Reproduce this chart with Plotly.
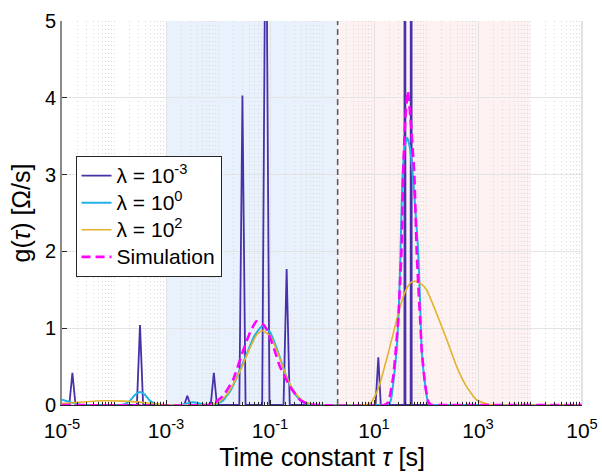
import plotly.graph_objects as go

# ---------------- data (log10 of tau, g values) ----------------
lam3_logtau = [-5.0, -4.86, -4.80, -4.74, -3.56, -3.50, -3.44, -2.65, -2.59, -2.53,
               -2.14, -2.08, -2.02, -1.59, -1.53, -1.47, -1.15, -1.08, -1.01,
               -0.74, -0.68, -0.62, 1.03, 1.083, 1.13, 1.585, 1.595, 1.605,
               1.705, 1.715, 1.725, 5.0]
lam3_g = [0, 0, 0.42, 0, 0, 1.04, 0, 0, 0.12, 0,
          0, 0.42, 0, 0, 4.03, 0, 0, 7.3, 0,
          0, 1.77, 0, 0, 0.62, 0, 0, 30, 0,
          0, 30, 0, 0]

lam0_logtau = [-5.0, -4.85, -4.7, -4.55, -3.85, -3.7, -3.6, -3.5, -3.4, -3.3, -3.15,
               -2.7, -2.6, -2.48, -2.35, -2.2, -2.05, -1.9, -1.75, -1.6, -1.45, -1.3,
               -1.15, -1.0, -0.85, -0.7, -0.55, -0.4, -0.25, -0.1,
               1.2, 1.28, 1.33, 1.37, 1.435, 1.48, 1.51, 1.55, 1.6, 1.64, 1.69, 1.745,
               1.80, 1.85, 1.885, 1.917, 1.98, 2.045, 2.1, 2.2, 5.0]
lam0_g = [0.07, 0.04, 0.01, 0.0, 0.0, 0.05, 0.13, 0.17, 0.13, 0.05, 0.0,
          0.0, 0.02, 0.035, 0.02, 0.0, 0.01, 0.06, 0.2, 0.42, 0.66, 0.9,
          1.03, 0.95, 0.7, 0.4, 0.17, 0.05, 0.01, 0.0,
          0.0, 0.0, 0.08, 0.28, 0.72, 1.3, 2.0, 3.0, 3.4, 3.48, 3.35, 3.0,
          2.5, 2.0, 1.37, 0.72, 0.28, 0.02, 0.0, 0.0, 0.0]

lam2_logtau = [-5.0, -4.6, -4.2, -3.8, -3.4, -3.1, -2.9, -2.2, -2.0, -1.85, -1.7,
               -1.55, -1.4, -1.25, -1.15, -1.0, -0.85, -0.7, -0.55, -0.4, -0.25,
               -0.1, 0.8, 0.923, 1.02, 1.115, 1.24, 1.37, 1.5, 1.63, 1.72, 1.808, 1.9,
               2.01, 2.205, 2.4, 2.59, 2.78, 2.975, 3.17, 3.35, 5.0]
lam2_g = [0.02, 0.04, 0.055, 0.05, 0.03, 0.01, 0.0, 0.0, 0.03, 0.12, 0.28,
          0.48, 0.72, 0.92, 0.97, 0.9, 0.68, 0.4, 0.19, 0.07, 0.02,
          0.0, 0.0, 0.02, 0.12, 0.28, 0.59, 0.93, 1.28, 1.52, 1.6, 1.61, 1.58,
          1.5, 1.19, 0.85, 0.5, 0.24, 0.065, 0.013, 0.0, 0.0]

sim_logtau = [-5.0, -2.2, -2.09, -1.9, -1.71, -1.51, -1.38, -1.26, -1.15, -1.06,
              -0.93, -0.81, -0.7, -0.615, -0.42, -0.25, -0.1, 1.2, 1.276, 1.37,
              1.42, 1.47, 1.5, 1.53, 1.56, 1.6, 1.65, 1.7, 1.775, 1.82, 1.85, 1.885,
              1.917, 1.98, 2.045, 2.1, 2.2, 5.0]
sim_g = [0.0, 0.0, 0.02, 0.12, 0.33, 0.72, 0.95, 1.09, 1.06, 0.98,
         0.75, 0.5, 0.35, 0.24, 0.065, 0.01, 0.0, 0.0, 0.04, 0.37,
         0.72, 1.15, 1.58, 2.02, 3.0, 3.7, 4.09, 3.75, 3.0, 2.02, 1.58, 1.15,
         0.72, 0.28, 0.04, 0.0, 0.0, 0.0]

series_names = ["λ = 10<sup>-3</sup>", "λ = 10<sup>0</sup>", "λ = 10<sup>2</sup>", "Simulation"]
tick_vals = [1e-5, 1e-3, 1e-1, 1e1, 1e3, 1e5]
tick_text = ["10<sup>-5</sup>", "10<sup>-3</sup>", "10<sup>-1</sup>", "10<sup>1</sup>",
             "10<sup>3</sup>", "10<sup>5</sup>"]
y_ticks = [0, 1, 2, 3, 4, 5]
region_low = [1e-3, 2.0]
region_high = [2.0, 1e4]
divider = 2.0

# ---------------- figure ----------------
def tau(lst):
    return [10 ** v for v in lst]

def big(name):
    return '<span style="font-size:21px">' + name + '</span>'

FONT = "Liberation Sans, Arial, sans-serif"
SMOOTH = 0.45
fig = go.Figure()
fig.add_trace(go.Scatter(x=tau(lam3_logtau), y=lam3_g, mode="lines", name=big(series_names[0]),
                         line=dict(color="#4831A8", width=1.8)))
fig.add_trace(go.Scatter(x=tau(lam0_logtau), y=lam0_g, mode="lines", name=big(series_names[1]),
                         line=dict(color="#22B0E6", width=2, shape="spline", smoothing=SMOOTH)))
fig.add_trace(go.Scatter(x=tau(lam2_logtau), y=lam2_g, mode="lines", name=big(series_names[2]),
                         line=dict(color="#E3B22E", width=1.6, shape="spline", smoothing=SMOOTH)))
fig.add_trace(go.Scatter(x=tau(sim_logtau), y=sim_g, mode="lines", name=big(series_names[3]),
                         line=dict(color="#FF00FF", width=2.6, dash="9px,5px", shape="spline",
                                   smoothing=SMOOTH)))

fig.add_shape(type="rect", xref="x", yref="paper", x0=region_low[0], x1=region_low[1],
              y0=0, y1=1, fillcolor="#E9F1FD", line_width=0, layer="below")
fig.add_shape(type="rect", xref="x", yref="paper", x0=region_high[0], x1=region_high[1],
              y0=0, y1=1, fillcolor="#FDF1F1", line_width=0, layer="below")
fig.add_shape(type="line", xref="x", yref="paper", x0=divider, x1=divider, y0=0, y1=1,
              line=dict(color="#5E5E5E", width=1.6, dash="6px,4px"), layer="above")
fig.add_shape(type="line", xref="paper", yref="paper", x0=1, x1=1, y0=0, y1=1,
              line=dict(color="#D0D0D0", width=1.2), layer="above")

minor_vals = [d * 10.0 ** e for e in range(-5, 5) for d in range(1, 10)]

fig.update_xaxes(type="log", range=[-5, 5], tickvals=tick_vals, ticktext=tick_text,
                 automargin=False, ticklabelstandoff=7,
                 showgrid=True, gridcolor="#E4E4E4", gridwidth=1,
                 ticks="inside", ticklen=5, tickcolor="#262626",
                 showline=True, linecolor="#262626", linewidth=1.2, zeroline=False,
                 tickfont=dict(family=FONT, size=21, color="#000"),
                 minor=dict(tickvals=minor_vals, ticks="inside", ticklen=3,
                            tickcolor="#262626", showgrid=True, gridcolor="#D6D6D6",
                            griddash="1px,3px", gridwidth=1),
                 title=dict(text="Time constant <i>τ</i> [s]",
                            font=dict(family=FONT, size=25, color="#000"), standoff=7))
fig.update_yaxes(range=[0, 5], tickvals=y_ticks, showgrid=True, gridcolor="#E4E4E4",
                 automargin=False,
                 ticks="inside", ticklen=5, tickcolor="#262626",
                 showline=True, linecolor="#8A8A8A", linewidth=2, zeroline=False,
                 tickfont=dict(family=FONT, size=20, color="#000"),
                 title=dict(text="g(<i>τ</i>) [Ω/s]",
                            font=dict(family=FONT, size=25, color="#000"), standoff=7))

fig.update_layout(
    width=602, height=474,
    margin=dict(l=62, r=20, t=21, b=69),
    paper_bgcolor="white", plot_bgcolor="white",
    font=dict(family=FONT, color="#000"),
    showlegend=True,
    legend=dict(x=0.026, y=0.648, xanchor="left", yanchor="top",
                bgcolor="white", bordercolor="#262626", borderwidth=1,
                font=dict(family=FONT, size=18.5, color="#000"), itemwidth=30),
)

fig.write_html("out.html")
